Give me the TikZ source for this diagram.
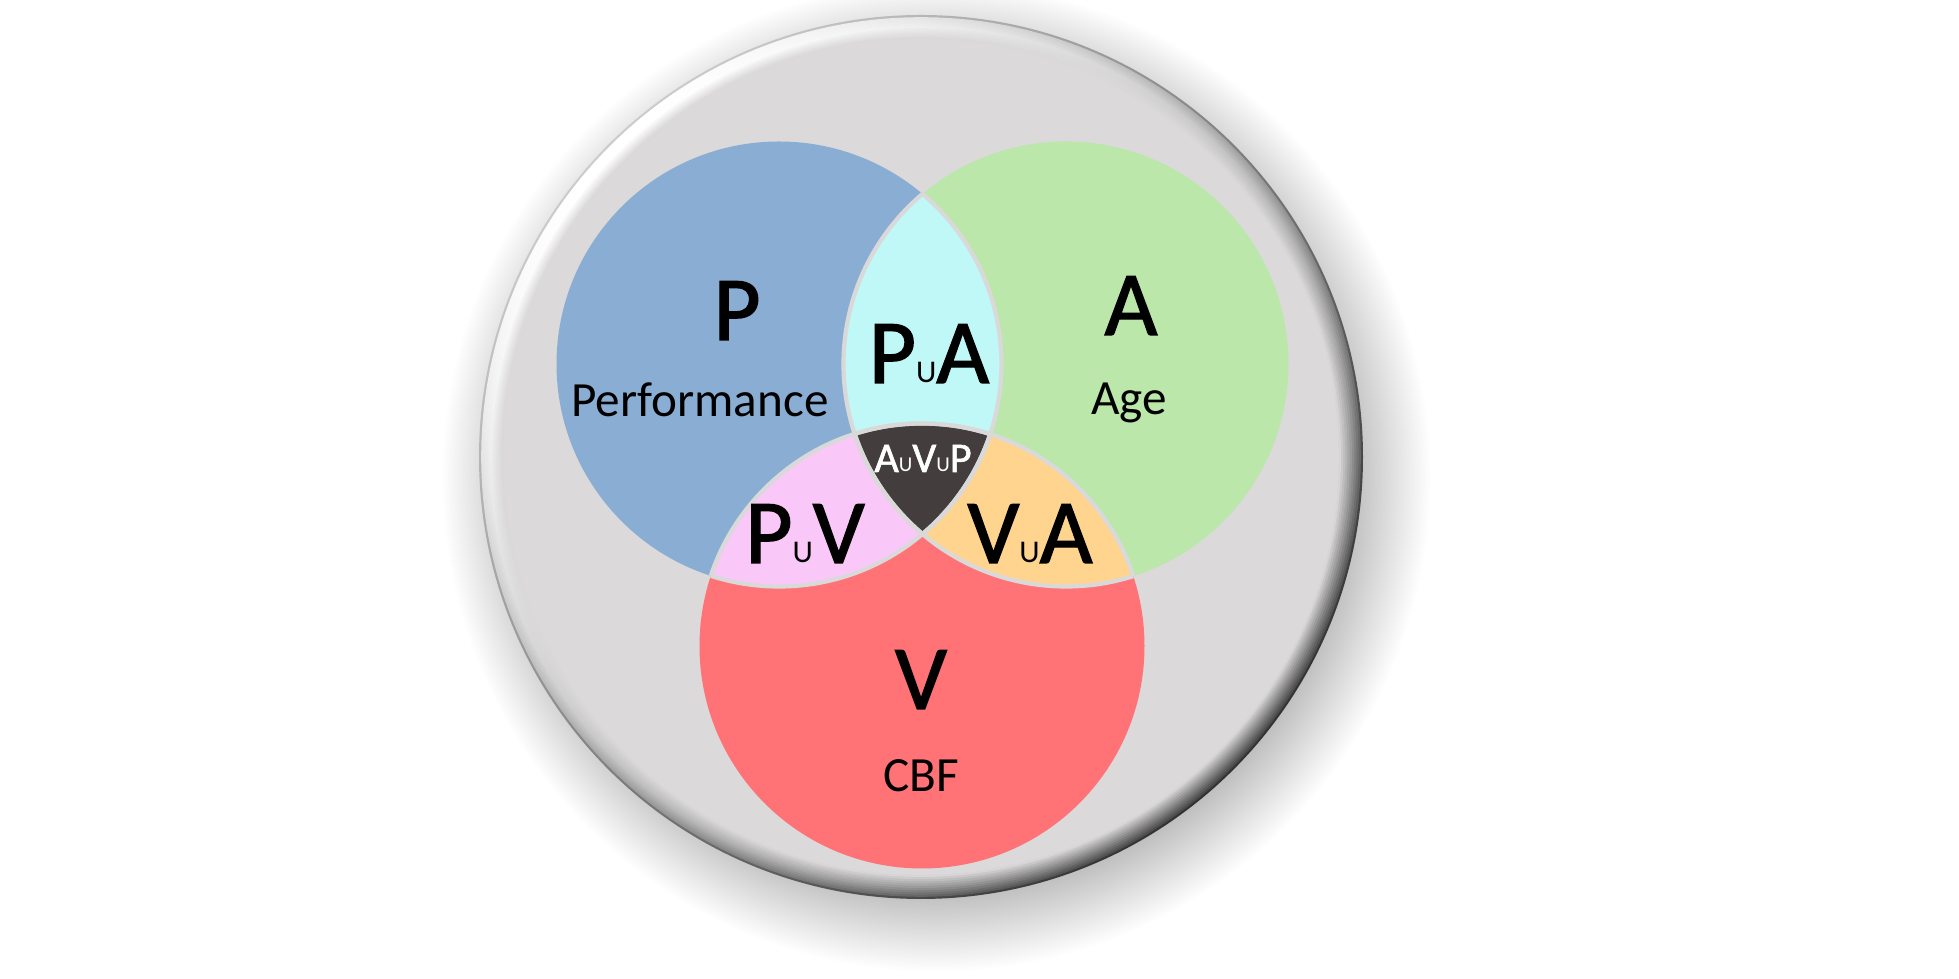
\documentclass[tikz,border=0pt]{standalone}
\usepackage{fontspec}
\setmainfont{Carlito}
\newfontfamily\heavyfont{Carlito}[FakeBold=1.5]
\usetikzlibrary{calc}

\definecolor{discgray}{RGB}{219,217,218}
\definecolor{shadowgray}{RGB}{190,190,190}
\definecolor{seamgray}{RGB}{217,217,217}
\definecolor{fillP}{RGB}{138,174,211}
\definecolor{fillA}{RGB}{187,231,171}
\definecolor{fillV}{RGB}{255,115,119}
\definecolor{fillPA}{RGB}{192,248,248}
\definecolor{fillPV}{RGB}{250,200,248}
\definecolor{fillVA}{RGB}{255,212,143}
\definecolor{fillAVP}{RGB}{67,61,62}

\pgfdeclareradialshading{discshadow}{\pgfpoint{0bp}{0bp}}{color(0bp)=(shadowgray); color(21bp)=(shadowgray); color(25bp)=(white)}

\newcommand{\cupmark}[1][9]{{\rmfamily\fontsize{#1}{#1}\selectfont U}}

\begin{document}
\begin{tikzpicture}[
        bigletter/.style={font=\fontsize{26}{26}\heavyfont, anchor=base, inner sep=0pt},
        subtitle/.style={font=\fontsize{14}{14}\selectfont, anchor=base, inner sep=0pt},
        seam/.style={draw=seamgray, line width=1.2pt}]
    \useasboundingbox (0,0) rectangle (19.59,9.79);

    \coordinate (cO) at (9.21,5.22);
    \coordinate (cP) at (7.79,6.15);
    \coordinate (cA) at (10.66,6.15);
    \coordinate (cV) at (9.22,3.33);
    \def\rr{2.225}

    % Shadow of the disc
    \shade[shading=discshadow] ($(cO)+(0.15,-0.2)$) circle (4.95);

    % Rim, lit from the upper left
    \shade[top color=gray!40, middle color=gray!50, bottom color=black!80, shading angle=45] (cO) circle (4.42);
    \foreach \i in {1,...,11} {
        \pgfmathsetmacro\r{4.42-0.022*\i}
        \pgfmathtruncatemacro\lq{max(0,min(100,100-(\i-5)*20))}
        \pgfmathtruncatemacro\mq{max(0,min(80,80-(\i-4)*16))}
        \pgfmathtruncatemacro\dp{max(0,72-7*\i)}
        \shade[top color=white!\lq!discgray, middle color=white!\mq!discgray, bottom color=black!\dp!discgray, shading angle=45] (cO) circle (\r);
    }
    \fill[discgray] (cO) circle (4.16);

    % Circles
    \fill[fillP] (cP) circle (\rr);
    \fill[fillA] (cA) circle (\rr);
    \fill[fillV] (cV) circle (\rr);

    % Overlaps
    \begin{scope}
        \clip (cP) circle (\rr);
        \fill[fillPA] (cA) circle (\rr);
        \fill[fillPV] (cV) circle (\rr);
    \end{scope}
    \begin{scope}
        \clip (cA) circle (\rr);
        \fill[fillVA] (cV) circle (\rr);
    \end{scope}
    \begin{scope}
        \clip (cP) circle (\rr);
        \clip (cA) circle (\rr);
        \fill[fillAVP] (cV) circle (\rr);
    \end{scope}

    % Seams
    \foreach \c/\a/\b in {cP/cA/cV, cA/cP/cV, cV/cP/cA} {
        \begin{scope}
            \clip (\c) circle (\rr);
            \draw[seam] (\a) circle (\rr) (\b) circle (\rr);
        \end{scope}
    }

    % Labels
    \node[bigletter] (labP) at (7.37,6.39) {P};
    \node[subtitle] (labPerf) at (7.00,5.62) {Performance};
    \node[bigletter] (labA) at (11.31,6.44) {A};
    \node[subtitle] (labAge) at (11.29,5.64) {Age};
    \node[bigletter] (labPA) at (9.29,5.96) {P\cupmark A};
    \node[bigletter, font=\fontsize{12}{12}\heavyfont, text=white] (labAVP) at (9.23,5.07) {A\cupmark[6]V\cupmark[6]P};
    \node[bigletter] (labPV) at (8.05,4.16) {P\cupmark V};
    \node[bigletter] (labVA) at (10.30,4.16) {V\cupmark A};
    \node[bigletter] (labV) at (9.21,2.70) {V};
    \node[subtitle] (labCBF) at (9.21,1.87) {CBF};
\end{tikzpicture}
\end{document}
